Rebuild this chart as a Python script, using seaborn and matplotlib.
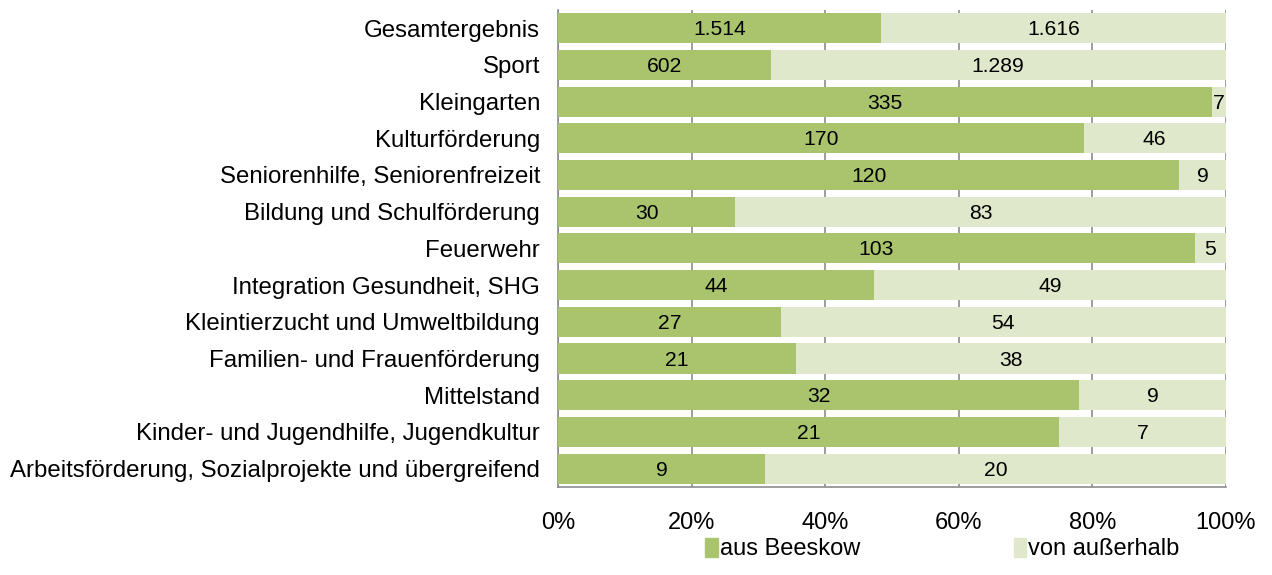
import numpy as np
import pandas as pd
import matplotlib
matplotlib.use("Agg")
import matplotlib.pyplot as plt
import seaborn as sns
from matplotlib.patches import Patch

# data
categories = ["Gesamtergebnis", "Sport", "Kleingarten", "Kulturförderung",
              "Seniorenhilfe, Seniorenfreizeit", "Bildung und Schulförderung",
              "Feuerwehr", "Integration Gesundheit, SHG",
              "Kleintierzucht und Umweltbildung", "Familien- und Frauenförderung",
              "Mittelstand", "Kinder- und Jugendhilfe, Jugendkultur",
              "Arbeitsförderung, Sozialprojekte und übergreifend"]
aus_beeskow = [1514, 602, 335, 170, 120, 30, 103, 44, 27, 21, 32, 21, 9]
von_ausserhalb = [1616, 1289, 7, 46, 9, 83, 5, 49, 54, 38, 9, 7, 20]
x_ticks = [0, 20, 40, 60, 80, 100]

def fmt(v):
    return f"{v:,}".replace(",", ".")

df = pd.DataFrame({"Kategorie": categories,
                   "aus": aus_beeskow,
                   "von": von_ausserhalb})
df["total"] = df["aus"] + df["von"]
df["aus_pct"] = df["aus"] / df["total"] * 100
df["all_pct"] = 100.0

sns.set_style("white")
plt.rcParams["font.family"] = ["Liberation Sans", "DejaVu Sans"]

green = "#A9C46C"
light = "#DFE8CA"

fig = plt.figure(figsize=(12.72, 5.75), dpi=100)
ax = fig.add_axes([0.4387, 0.153, 0.525, 0.830])

sns.barplot(data=df, y="Kategorie", x="all_pct", color=light, orient="h",
            width=0.82, ax=ax, saturation=1, linewidth=0, zorder=2)
sns.barplot(data=df, y="Kategorie", x="aus_pct", color=green, orient="h",
            width=0.82, ax=ax, saturation=1, linewidth=0, zorder=3)

for i, row in df.iterrows():
    p = row["aus_pct"]
    ax.text(p / 2, i + 0.04, fmt(row["aus"]), ha="center", va="center",
            fontsize=15.2, color="black", zorder=4)
    ax.text(p + (100 - p) / 2, i + 0.04, fmt(row["von"]), ha="center",
            va="center", fontsize=15.2, color="black", zorder=4)

ax.set_xlim(0, 100)
ax.set_ylim(len(categories) - 0.5, -0.5)
ax.set_xticks(x_ticks)
ax.set_xticklabels([f"{t}%" for t in x_ticks], fontsize=17)
ax.tick_params(axis="y", labelsize=17.3, length=0, pad=13, labelcolor="black")
ax.tick_params(axis="x", length=5, color="#8C8C8C", pad=13, direction="out",
               labelcolor="black")
ax.set_xlabel("")
ax.set_ylabel("")
ax.xaxis.grid(True, color="#8C8C8C", linewidth=1.2, zorder=0)
ax.set_axisbelow(True)
for s in ["top", "right"]:
    ax.spines[s].set_visible(False)
for s in ["left", "bottom"]:
    ax.spines[s].set_color("#8C8C8C")
    ax.spines[s].set_linewidth(1.2)

handles = [Patch(color=green, label="aus Beeskow"),
           Patch(color=light, label="von außerhalb")]
fig.legend(handles=handles, loc="center", bbox_to_anchor=(0.741, 0.045),
           ncol=2, frameon=False, fontsize=17, handlelength=0.52,
           handleheight=0.85, handletextpad=0.1, columnspacing=6.5,
           labelcolor="black")

fig.savefig("out.png", dpi=100)
